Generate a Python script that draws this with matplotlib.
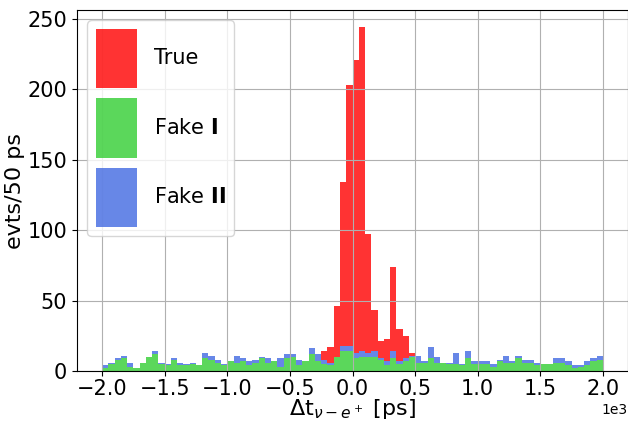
import numpy as np
import matplotlib.pyplot as plt
from matplotlib.ticker import MultipleLocator

# 80 bins of 50 ps from -2000 to 2000
edges = np.arange(-2000, 2001, 50)
centers = edges[:-1] + 25

fake1 = [2, 5, 8, 9, 3, 2, 6, 10, 12, 5,
         4, 8, 4, 4, 5, 4, 9, 8, 6, 4,
         7, 6, 7, 4, 6, 9, 6, 7, 3, 9,
         10, 4, 7, 12, 7, 5, 4, 10, 14, 14,
         9, 10, 10, 10, 8, 4, 9, 5, 7, 10,
         6, 6, 9, 6, 6, 5, 5, 4, 9, 5,
         5, 5, 3, 7, 6, 6, 9, 6, 6, 4,
         5, 5, 6, 6, 4, 2, 3, 4, 7, 8]
fake2 = [2, 1, 1, 2, 3, 0, 0, 0, 2, 1,
         1, 1, 2, 1, 1, 0, 4, 3, 2, 1,
         0, 5, 2, 3, 2, 1, 3, 0, 6, 3,
         2, 4, 0, 4, 5, 3, 2, 0, 4, 4,
         4, 4, 3, 4, 1, 3, 5, 2, 2, 1,
         5, 1, 8, 4, 0, 1, 8, 1, 5, 2,
         2, 2, 2, 1, 5, 1, 2, 2, 2, 2,
         0, 0, 3, 3, 3, 2, 1, 3, 2, 3]
true = [0] * 80
true_center = {35: 6, 36: 11, 37: 36, 38: 116, 39: 185, 40: 208, 41: 230,
               42: 84, 43: 29, 44: 12, 45: 16, 46: 60, 47: 23, 48: 16, 49: 2}
for k, v in true_center.items():
    true[k] = v

fig = plt.figure(figsize=(6.28, 4.23), dpi=100)
ax = fig.add_axes([77 / 628, 52 / 423, 551 / 628, 361 / 423])

ax.hist([centers, centers, centers], bins=edges,
        weights=[fake1, fake2, true], stacked=True, histtype='stepfilled',
        color=['limegreen', 'royalblue', 'red'], alpha=0.8,
        label=['Fake $\\mathbf{I}$', 'Fake $\\mathbf{II}$', 'True'])

ax.set_xlim(-2200, 2200)
ax.set_ylim(0, 256.2)
ax.xaxis.set_major_locator(MultipleLocator(500))
ax.grid(True)
ax.ticklabel_format(axis='x', style='sci', scilimits=(0, 0))
ax.tick_params(labelsize=15)
ax.tick_params(axis='x', pad=2)
ax.xaxis.get_offset_text().set_fontsize(10)
ax.set_xlabel('Δt$_{\\nu-e^+}$ [ps]', fontsize=16, labelpad=-1)
ax.set_ylabel('evts/50 ps', fontsize=16, labelpad=2)

h, l = ax.get_legend_handles_labels()
order = [l.index('True'), l.index('Fake $\\mathbf{I}$'), l.index('Fake $\\mathbf{II}$')]
ax.legend([h[i] for i in order], [l[i] for i in order], loc='upper left',
          fontsize=15, handlelength=2.0, handleheight=4.0, labelspacing=0.5,
          handletextpad=0.8)

fig.savefig('out.png', dpi=100)
